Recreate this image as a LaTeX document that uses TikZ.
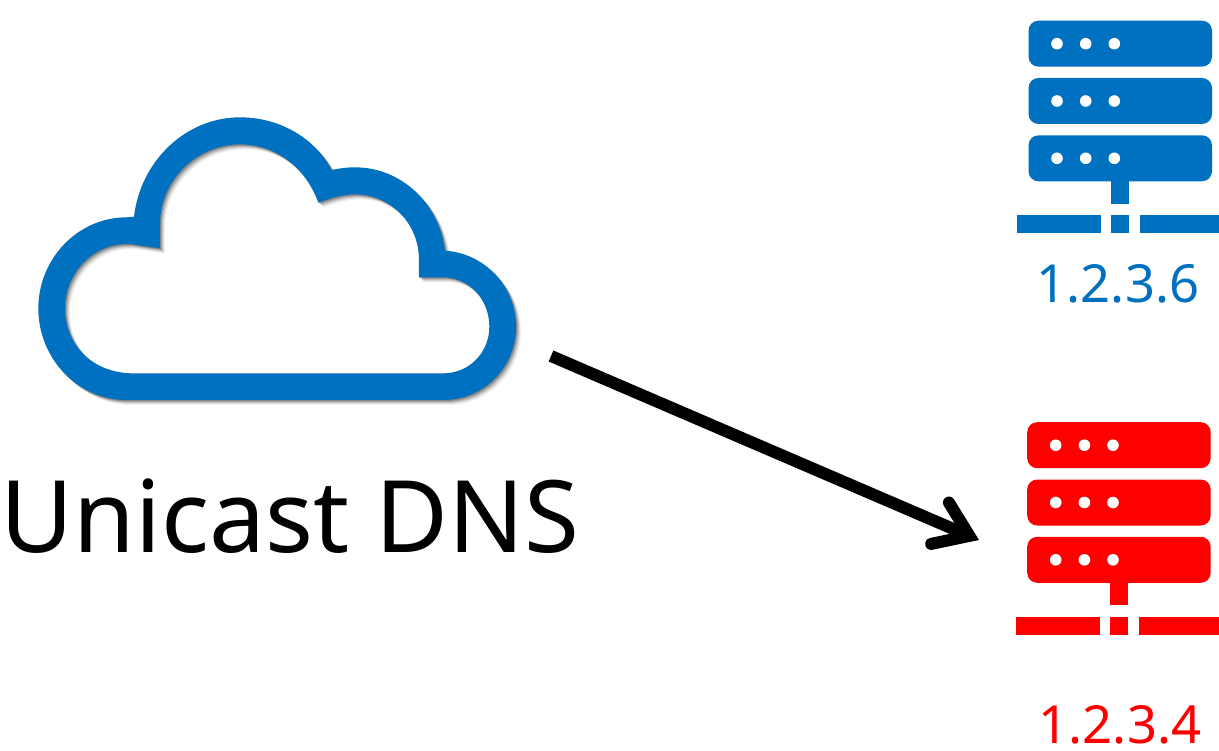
\documentclass[tikz,border=0pt]{standalone}
\usepackage{fontspec}
\setmainfont{Noto Sans}
\usetikzlibrary{arrows.meta}
\definecolor{msblue}{HTML}{0070C0}
\definecolor{msred}{HTML}{FF0000}
\newcommand{\cloudoutline}{%
  (320,900) -- (1270,900)
  .. controls (1392,900) and (1488,800) .. (1488,680)
  .. controls (1488,560) and (1395,460) .. (1275,452)
  .. controls (1258,312) and (1145,202) .. (1005,202)
  .. controls (980,202) and (958,205) .. (935,210)
  .. controls (885,115) and (780,52) .. (660,52)
  .. controls (500,52) and (362,180) .. (342,350)
  -- (320,352)
  .. controls (172,352) and (55,478) .. (55,625)
  .. controls (55,775) and (172,900) .. (320,900) -- cycle
  (340,820) -- (1270,820)
  .. controls (1347,820) and (1408,758) .. (1408,680)
  .. controls (1408,598) and (1347,532) .. (1270,532)
  -- (1197,532) -- (1197,480)
  .. controls (1197,370) and (1112,283) .. (1005,283)
  .. controls (965,283) and (930,295) .. (895,308)
  .. controls (858,205) and (770,133) .. (660,133)
  .. controls (530,133) and (420,240) .. (420,370)
  -- (420,445) -- (350,435)
  .. controls (340,433) and (330,432) .. (320,432)
  .. controls (218,432) and (135,518) .. (135,625)
  .. controls (135,735) and (218,820) .. (340,820) -- cycle}
\tikzset{
  x=1pt, y=-1pt,
  label text/.style={inner sep=0pt, outer sep=0pt, anchor=base},
  big text/.style={label text, font=\fontsize{100}{100}\selectfont, text=black},
  ip text/.style={label text, font=\fontsize{52.5}{52.5}\selectfont},
  cloud part/.style={shift={(20,100)}, xscale=1/3, yscale=1/3},
  flow arrow/.style={line width=12pt, draw=black,
    -{Straight Barb[length=32pt,width=45pt,line cap=round,line join=miter]}},
  pics/serverstack/.style 2 args={code={
    \foreach \yy in {20.7,78,135.3}{
      \fill[#1, rounded corners=10pt] (1028.5,\yy) rectangle ++(183.5,46);
      \foreach \xx in {1057,1085.7,1114.3}
        \fill[white] (\xx,\yy+23) circle[radius=5.8pt];
    }
    \fill[#1] (1111,180) rectangle (1129,203.7);
    \fill[#1] (1017,215) rectangle (1101,233);
    \fill[#1] (1111,215) rectangle (1129,233);
    \fill[#1] (1140,215) rectangle (#2,233);
  }}
}
\begin{document}
\begin{tikzpicture}
\useasboundingbox (0,0) rectangle (1219,751);
% cloud shadow
\foreach \off/\op in {5/0.06,4/0.08,3/0.12,2/0.16,1/0.2}{
  \fill[black, opacity=\op, even odd rule, cloud part, shift={(\off*3,\off*3)}] \cloudoutline;
}
\fill[msblue, even odd rule, cloud part] \cloudoutline;
% text
\node[big text] (dnslabel) at (290,552) {Unicast DNS};
\node[ip text, text=msblue] (ipblue) at (1118,303) {1.2.3.6};
\node[ip text, text=msred] (ipred) at (1120,743) {1.2.3.4};
% servers
\pic (serverblue) at (0,0) {serverstack={msblue}{1219}};
\pic (serverred) at (-1.3,401.5) {serverstack={msred}{1220.3}};
% connector
\coordinate (arrowstart) at (551,356);
\coordinate (arrowend) at (979,540);
\draw[flow arrow] (arrowstart) -- (arrowend);
\end{tikzpicture}
\end{document}
